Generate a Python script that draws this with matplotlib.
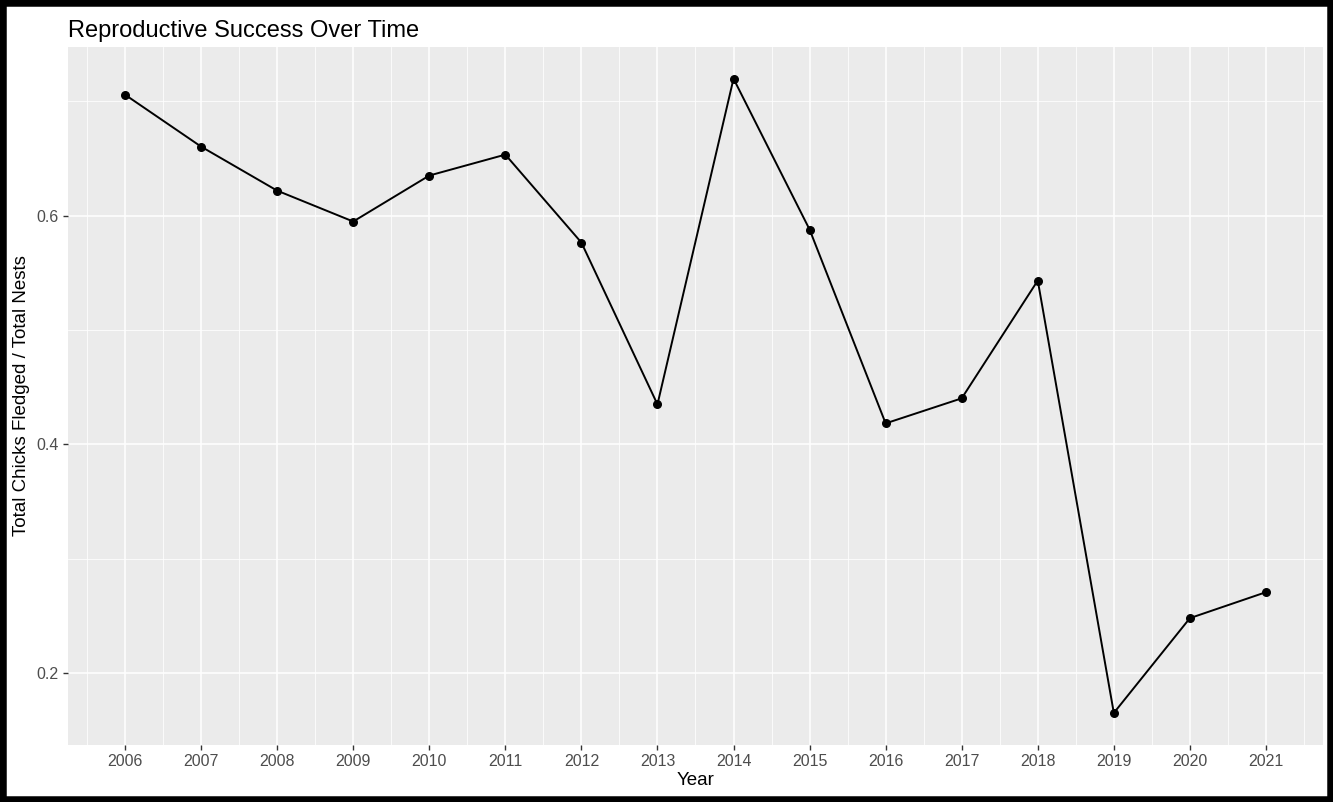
import matplotlib.pyplot as plt
from matplotlib.patches import Rectangle

# Reproductive success per year
years = [2006, 2007, 2008, 2009, 2010, 2011, 2012, 2013,
         2014, 2015, 2016, 2017, 2018, 2019, 2020, 2021]
success = [0.7057, 0.6603, 0.6218, 0.5948, 0.6350, 0.6533, 0.5764, 0.4349,
           0.7197, 0.5878, 0.4183, 0.4402, 0.5432, 0.1651, 0.2480, 0.2707]

y_ticks = [0.2, 0.4, 0.6]
y_minor = [0.3, 0.5, 0.7]

plt.rcParams['font.family'] = ['Liberation Sans', 'DejaVu Sans']

fig = plt.figure(figsize=(13.33, 8.02), dpi=100)
ax = fig.add_axes([0.051, 0.0711, 0.9415, 0.8703])

# ggplot-ish panel
ax.set_facecolor('#EBEBEB')
for s in ax.spines.values():
    s.set_visible(False)

ax.set_xlim(2005.25, 2021.75)
ax.set_ylim(0.1371, 0.7474)

ax.set_xticks(years)
ax.set_xticks([y + 0.5 for y in years[:-1]] + [years[0] - 0.5, years[-1] + 0.5], minor=True)
ax.set_yticks(y_ticks)
ax.set_yticks(y_minor, minor=True)
ax.set_xticklabels([str(y) for y in years])
ax.set_yticklabels([str(v) for v in y_ticks])

ax.grid(which='major', color='white', linewidth=1.1)
ax.grid(which='minor', color='white', linewidth=0.55)
ax.set_axisbelow(True)

ax.tick_params(which='major', length=3.5, width=1, color='#333333',
               labelcolor='#4D4D4D', labelsize=11.5, pad=3)
ax.tick_params(which='minor', length=0)

ax.plot(years, success, color='black', linewidth=1.4, zorder=3)
ax.scatter(years, success, color='black', s=30, zorder=4)

ax.set_xlabel('Year', fontsize=13.5, labelpad=2)
ax.set_ylabel('Total Chicks Fledged / Total Nests', fontsize=13.5, labelpad=5)
ax.set_title('Reproductive Success Over Time', loc='left', fontsize=17, pad=7)

# thick black frame around the whole image
fig.patches.append(Rectangle((0, 0), 1, 1, transform=fig.transFigure,
                             fill=False, edgecolor='black', linewidth=9))

fig.savefig('out.png', dpi=100)
